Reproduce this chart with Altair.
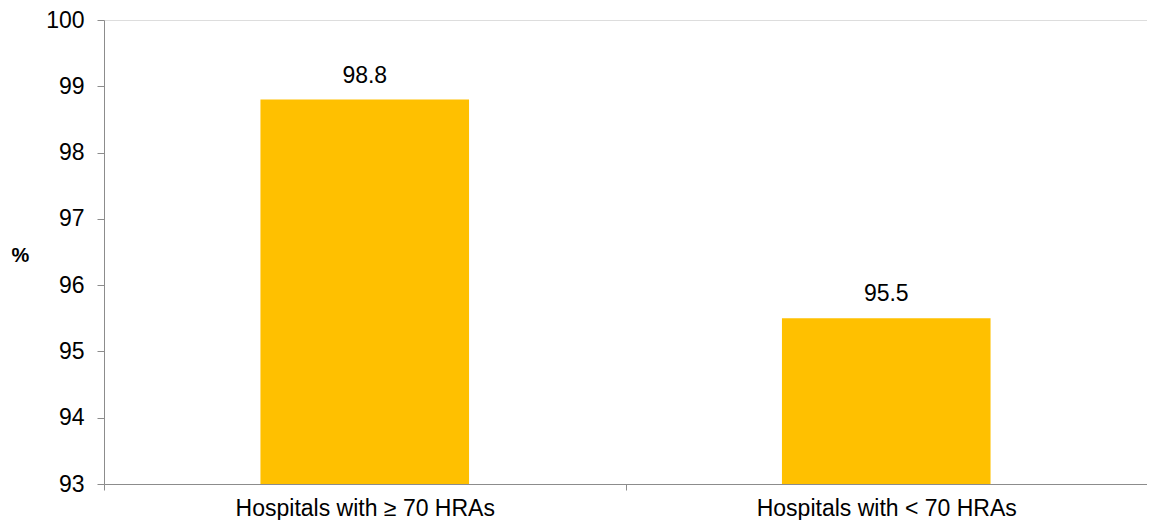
import altair as alt
import pandas as pd

categories = ["Hospitals with \u2265 70 HRAs", "Hospitals with < 70 HRAs"]
values = [98.8, 95.5]
y_ticks = [93, 94, 95, 96, 97, 98, 99, 100]

df = pd.DataFrame({"category": categories, "value": values})
df["label"] = df["value"].map(lambda v: f"{v:.1f}")

FONT = "Liberation Sans"
AXIS_COLOR = "#8c8c8c"
PLOT_H = 464

x_enc = alt.X(
    "category:N",
    sort=categories,
    title=None,
    scale=alt.Scale(paddingInner=0, paddingOuter=0),
    axis=alt.Axis(
        labelAngle=0,
        labelFont=FONT,
        labelFontSize=23,
        labelColor="#000000",
        labelPadding=7,
        labelBaseline="top",
        labelLimit=0,
        tickBand="extent",
        tickSize=6,
        tickColor=AXIS_COLOR,
        domainColor=AXIS_COLOR,
        grid=False,
    ),
)

y_enc = alt.Y(
    "value:Q",
    title="%",
    scale=alt.Scale(domain=[93, 100], nice=False, zero=False),
    axis=alt.Axis(
        values=y_ticks,
        format="d",
        labelFont=FONT,
        labelFontSize=23,
        labelColor="#000000",
        labelPadding=13,
        tickSize=7,
        tickColor=AXIS_COLOR,
        domainColor=AXIS_COLOR,
        grid=False,
        titleFont=FONT,
        titleFontSize=20,
        titleFontWeight="bold",
        titleAngle=0,
        titleAlign="center",
        titleBaseline="middle",
        titleX=-84,
        titleY=PLOT_H / 2 + 3,
        titleColor="#000000",
    ),
)

bars = alt.Chart(df).mark_bar(
    color="#FFC000", width=alt.RelativeBandSize(0.4), clip=True
).encode(x=x_enc, y=y_enc)

text = alt.Chart(df).mark_text(
    font=FONT, fontSize=23, color="#000000", baseline="alphabetic", dy=-17
).encode(x=alt.X("category:N", sort=categories), y="value:Q", text="label:N")

chart = (
    alt.layer(bars, text)
    .properties(
        width=1043,
        height=PLOT_H,
        autosize=alt.AutoSizeParams(type="none"),
        padding={"left": 96, "top": 12, "right": 0, "bottom": 36},
    )
    .configure_view(stroke=None)
    .configure(background="#ffffff")
)

chart.save("out.html", embed_options={"renderer": "svg", "actions": False})
